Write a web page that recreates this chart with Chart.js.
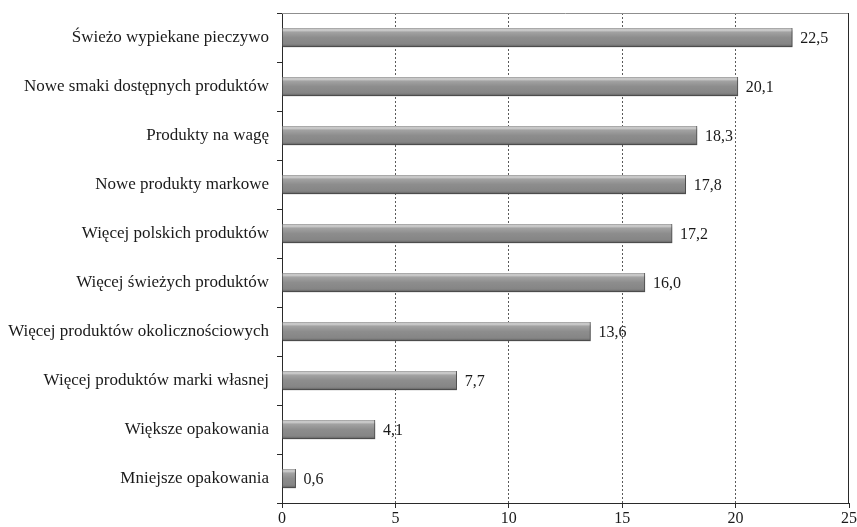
<!DOCTYPE html>
<html>
<head>
<meta charset="utf-8">
<script src="https://cdn.jsdelivr.net/npm/chart.js@4"></script>
<style>
  html, body { margin: 0; padding: 0; background: #ffffff; }
  #wrap { width: 857px; height: 527px; }
</style>
</head>
<body>
<div id="wrap"><canvas id="chart" width="857" height="527"></canvas></div>
<script>
// Categories (top to bottom) and their percentages
const categories = [
  'Świeżo wypiekane pieczywo',
  'Nowe smaki dostępnych produktów',
  'Produkty na wagę',
  'Nowe produkty markowe',
  'Więcej polskich produktów',
  'Więcej świeżych produktów',
  'Więcej produktów okolicznościowych',
  'Więcej produktów marki własnej',
  'Większe opakowania',
  'Mniejsze opakowania'
];
const values = [22.5, 20.1, 18.3, 17.8, 17.2, 16.0, 13.6, 7.7, 4.1, 0.6];
const axisMin = 0;
const axisMax = 25;
const axisStep = 5;

const SERIF = "'Liberation Serif', 'Times New Roman', serif";
const BAR_H = 19;

// Cylinder-like grey fill for each bar
function barFill(ctx) {
  const chart = ctx.chart;
  if (!chart.chartArea || ctx.type !== 'data' || !chart.scales.y) return '#8c8c8c';
  const yc = chart.scales.y.getPixelForValue(ctx.dataIndex);
  const g = chart.ctx.createLinearGradient(0, yc - BAR_H / 2, 0, yc + BAR_H / 2);
  g.addColorStop(0.00, '#9a9a9a');
  g.addColorStop(0.10, '#d4d4d4');
  g.addColorStop(0.22, '#a2a2a2');
  g.addColorStop(0.50, '#8d8d8d');
  g.addColorStop(0.85, '#858585');
  g.addColorStop(1.00, '#5c5c5c');
  return g;
}

// Soft drop shadow under the bars, value labels and the plot frame
const decorations = {
  id: 'decorations',
  beforeDatasetsDraw(chart) {
    const c = chart.ctx;
    c.save();
    c.shadowColor = 'rgba(0,0,0,0.28)';
    c.shadowBlur = 3;
    c.shadowOffsetX = 1;
    c.shadowOffsetY = 2;
  },
  afterDatasetsDraw(chart) {
    const c = chart.ctx;
    c.restore();
    const meta = chart.getDatasetMeta(0);
    c.save();
    c.font = '16px ' + SERIF;
    c.fillStyle = '#1a1a1a';
    c.textAlign = 'left';
    c.textBaseline = 'middle';
    meta.data.forEach((el, i) => {
      const v = chart.data.datasets[0].data[i];
      c.fillText(v.toFixed(1).replace('.', ','), el.x + 8, el.y + 1);
    });
    c.restore();
  },
  afterDraw(chart) {
    const { top, right, left, bottom } = chart.chartArea;
    const c = chart.ctx;
    c.save();
    c.lineWidth = 1;
    c.strokeStyle = '#8f8f8f';
    c.beginPath();
    c.moveTo(left, top + 0.5);
    c.lineTo(right, top + 0.5);
    c.stroke();
    c.strokeStyle = '#2a2a2a';
    c.beginPath();
    c.moveTo(right - 0.5, top);
    c.lineTo(right - 0.5, bottom);
    c.stroke();
    c.restore();
  }
};

new Chart(document.getElementById('chart'), {
  type: 'bar',
  data: {
    labels: categories,
    datasets: [{
      data: values,
      backgroundColor: barFill,
      borderColor: '#555555',
      borderWidth: { top: 0, left: 0, right: 1, bottom: 1 },
      borderSkipped: false,
      barThickness: BAR_H
    }]
  },
  options: {
    indexAxis: 'y',
    responsive: false,
    animation: false,
    devicePixelRatio: 1,
    layout: { padding: { top: 13, right: 8, left: 0, bottom: 0 } },
    plugins: {
      legend: { display: false },
      tooltip: { enabled: false }
    },
    scales: {
      x: {
        min: axisMin,
        max: axisMax,
        ticks: {
          stepSize: axisStep,
          color: '#1a1a1a',
          font: { family: SERIF, size: 16 },
          padding: 1,
          maxRotation: 0
        },
        grid: {
          color: (ctx) => (ctx.tick && (ctx.tick.value === axisMin || ctx.tick.value === axisMax))
            ? 'rgba(0,0,0,0)' : '#5a5a5a',
          lineWidth: 1,
          tickColor: '#2a2a2a',
          tickLength: 5,
          tickBorderDash: []
        },
        border: { display: true, color: '#2a2a2a', width: 1, dash: [2, 2] },
        afterFit(s) {
          s.height = 24;
          s.paddingLeft = 0;
          s.paddingRight = 0;
        }
      },
      y: {
        ticks: {
          color: '#1a1a1a',
          font: { family: SERIF, size: 17 },
          padding: 8,
          autoSkip: false
        },
        grid: {
          offset: true,
          drawOnChartArea: false,
          tickColor: '#2a2a2a',
          tickLength: 5
        },
        border: { display: true, color: '#2a2a2a', width: 1 },
        afterFit(s) {
          s.width = 282;
          s.paddingTop = 0;
          s.paddingBottom = 0;
        }
      }
    }
  },
  plugins: [decorations]
});
</script>
</body>
</html>
